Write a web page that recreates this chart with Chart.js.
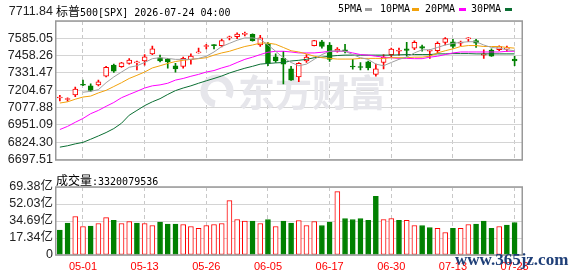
<!DOCTYPE html>
<html>
<head>
<meta charset="utf-8">
<script src="https://cdn.jsdelivr.net/npm/chart.js@4.4.0/dist/chart.umd.min.js"></script>
<style>
html, body { margin: 0; padding: 0; background: #fff; }
#wrap { position: relative; width: 578px; height: 276px; overflow: hidden; }
canvas { position: absolute; left: 0; }
.t { position: absolute; font: 10px 'DejaVu Sans Mono', monospace; color: #000; white-space: nowrap; line-height: 12px; }
.t b { font: 12px 'Noto Sans CJK SC', sans-serif; }
.sw { position: absolute; top: 8px; width: 7px; height: 3px; }
#wm { position: absolute; left: 455px; top: 250px; font: bold 17px 'Liberation Serif', serif; color: #1f3f78; white-space: nowrap; }
</style>
</head>
<body>
<div id="wrap">
  <canvas id="price" width="578" height="170" style="top:0"></canvas>
  <canvas id="vol" width="578" height="106" style="top:170px"></canvas>

  <div class="t" style="left:56px;top:2px"><b>标普</b>500[SPX] 2026-07-24 04:00</div>

  <div class="t" style="left:338px;top:3px">5PMA</div><div class="sw" style="left:365px;background:#a0a0a0"></div>
  <div class="t" style="left:380px;top:3px">10PMA</div><div class="sw" style="left:412px;background:#f2a20c"></div>
  <div class="t" style="left:425px;top:3px">20PMA</div><div class="sw" style="left:459px;background:#ff00ff"></div>
  <div class="t" style="left:471px;top:3px">30PMA</div><div class="sw" style="left:505px;background:#0a6e32"></div>

  <div class="t" style="left:56px;top:171px"><b>成交量</b>:3320079536</div>
  <div id="wm">www.365jz.com</div>
</div>

<script>
// trading days shown on the chart
const dates = ["04-28","04-29","04-30","05-01","05-04","05-05","05-06","05-07","05-08","05-11",
  "05-12","05-13","05-14","05-15","05-18","05-19","05-20","05-21","05-22","05-26",
  "05-27","05-28","05-29","06-01","06-02","06-03","06-04","06-05","06-08","06-09",
  "06-10","06-11","06-12","06-15","06-16","06-17","06-18","06-22","06-23","06-24",
  "06-25","06-26","06-29","06-30","07-01","07-02","07-06","07-07","07-08","07-09",
  "07-10","07-13","07-14","07-15","07-16","07-17","07-20","07-21","07-22","07-23"];

const opens  = [7148,7137,7171,7244,7237,7244,7307,7389,7377,7401,7405,7419,7471,7443,7431,7384,7380,7429,7478,7525,
                7534,7532,7588,7597,7614,7614,7536,7541,7450,7438,7361,7302,7419,7532,7560,7536,7490,7501,7382,7378,
                7412,7321,7408,7466,7490,7508,7513,7525,7490,7494,7555,7560,7550,7581,7569,7462,7499,7501,7506,7433];
const highs  = [7167,7150,7228,7279,7251,7279,7379,7396,7410,7436,7419,7466,7529,7462,7438,7401,7447,7471,7513,7541,
                7540,7579,7602,7625,7630,7617,7607,7553,7471,7489,7380,7408,7466,7571,7571,7553,7518,7541,7431,7408,
                7419,7396,7466,7513,7513,7555,7567,7536,7501,7560,7590,7578,7564,7590,7578,7501,7508,7530,7529,7454];
const lows   = [7127,7125,7157,7238,7197,7237,7302,7335,7372,7396,7354,7389,7466,7412,7366,7338,7366,7396,7476,7508,
                7508,7522,7574,7583,7602,7564,7525,7384,7408,7251,7276,7267,7408,7530,7513,7415,7483,7478,7359,7354,
                7354,7307,7361,7450,7461,7454,7501,7490,7438,7478,7536,7513,7532,7560,7518,7438,7452,7495,7489,7384];
const closes = [7152,7141,7214,7241,7204,7267,7373,7345,7405,7426,7412,7450,7508,7419,7412,7361,7438,7455,7483,7529,
                7531,7569,7593,7616,7621,7567,7588,7401,7419,7396,7279,7401,7447,7569,7525,7431,7506,7490,7375,7371,
                7368,7361,7447,7506,7492,7496,7555,7513,7494,7548,7583,7525,7555,7585,7550,7471,7454,7525,7510,7419];
const prevClose = 7160;

// volume, in 亿
const volumes = [25.4,32.5,39.3,29.1,29.4,32.1,38.2,35.5,32.1,34.2,32.5,32.1,30.1,33.5,31.5,31.5,31.1,29.1,27.1,30.1,
                 31.1,32.1,55.5,36.2,34.5,34.5,32.1,36.2,29.1,34.5,32.5,35.2,30.1,34.2,30.1,33.5,64.6,37.2,36.2,37.2,
                 35.5,59.9,36.2,37.2,35.5,35.5,30.1,30.1,28.1,27.1,23.0,27.1,27.1,31.1,31.5,34.5,27.1,29.1,30.5,33.2];

const ma5  = [null,null,null,7190,7197,7209,7260,7302,7338,7373,7384,7408,7436,7443,7438,7431,7431,7431,7438,7454,
              7485,7525,7548,7571,7588,7588,7578,7536,7490,7443,7408,7384,7396,7431,7466,7490,7494,7490,7466,7443,
              7431,7396,7384,7408,7431,7447,7478,7501,7501,7518,7536,7548,7555,7560,7560,7536,7518,7513,7501,7494];
const ma10 = [7111,7120,7139,7155,7162,7185,7204,7232,7260,7291,7314,7338,7368,7384,7401,7415,7424,7431,7436,7443,
              7462,7478,7490,7508,7525,7536,7550,7550,7541,7518,7494,7485,7471,7454,7443,7438,7433,7433,7433,7438,
              7438,7438,7438,7443,7443,7443,7447,7447,7454,7478,7494,7508,7525,7532,7532,7525,7525,7525,7518,7513];
const ma20 = [6917,6940,6970,6998,7033,7057,7087,7115,7150,7174,7197,7221,7237,7244,7256,7279,7291,7307,7321,7338,
              7349,7368,7384,7408,7431,7447,7466,7483,7490,7490,7485,7478,7478,7478,7483,7490,7490,7490,7478,7466,
              7462,7454,7447,7443,7438,7438,7436,7436,7447,7454,7466,7478,7485,7485,7485,7485,7485,7485,7490,7490];
const ma30 = [6788,6798,6812,6823,6846,6870,6895,6924,6963,7022,7057,7092,7120,7143,7174,7202,7221,7237,7256,7274,
              7291,7309,7331,7349,7366,7380,7396,7401,7405,7408,7419,7424,7431,7443,7447,7454,7459,7462,7462,7462,
              7462,7462,7462,7462,7464,7466,7466,7466,7466,7471,7471,7473,7473,7473,7471,7471,7471,7471,7471,7471];

const priceTicks = [6697.51,6824.30,6951.09,7077.88,7204.67,7331.47,7458.26,7585.05,7711.84];
const volTicks = [0,17.34,34.69,52.03,69.38];
const labelIdx = [3,11,19,27,35,43,51,59];

const RED = '#ff0000', GREEN = '#008000';
const idx = dates.map((d, i) => i);
const candleUp = idx.map(i => closes[i] >= opens[i]);
const volUp = idx.map(i => closes[i] >= (i ? closes[i - 1] : prevClose));

const labelFont = { family: "'Liberation Sans', 'Noto Sans CJK SC', sans-serif", size: 12.5 };

// border round the plot, drawn after everything
const frame = {
  id: 'frame',
  afterDraw(chart) {
    const { ctx, chartArea: a } = chart;
    ctx.save();
    ctx.strokeStyle = '#999';
    ctx.lineWidth = 1.5;
    ctx.strokeRect(Math.round(a.left) - 0.25, Math.round(a.top), Math.round(a.width) + 0.5, Math.round(a.height));
    ctx.restore();
  }
};

// light watermark behind the candles + top price label (sits a bit above its line)
const priceExtras = {
  id: 'priceExtras',
  beforeDatasetsDraw(chart) {
    const { ctx } = chart;
    ctx.save();
    ctx.fillStyle = '#e6e6eb';
    ctx.strokeStyle = '#e6e6eb';
    ctx.lineWidth = 7;
    ctx.beginPath();
    ctx.arc(217, 91, 13, Math.PI * 0.55, Math.PI * 2.15);
    ctx.stroke();
    ctx.font = "bold 37px 'Noto Sans CJK SC', sans-serif";
    ctx.textBaseline = 'alphabetic';
    ctx.fillText('东方财富', 238, 107);
    ctx.restore();
  },
  afterDraw(chart) {
    const { ctx } = chart;
    const y = chart.scales.y;
    const top = priceTicks[priceTicks.length - 1];
    ctx.save();
    ctx.font = "12.5px 'Liberation Sans', sans-serif";
    ctx.fillStyle = '#222';
    ctx.textAlign = 'right';
    ctx.textBaseline = 'middle';
    ctx.fillText(top.toFixed(2), 53, y.getPixelForValue(top) - 9);
    ctx.restore();
  }
};

function xAxis(showLabels) {
  return {
    type: 'linear', min: -0.5, max: 59.96, offset: false,
    grid: { offset: false, color: '#c8c8c8', lineWidth: 1, drawTicks: false },
    border: { display: false, dash: [4, 3] },
    afterBuildTicks: s => { s.ticks = labelIdx.map(v => ({ value: v })); },
    ticks: showLabels
      ? { autoSkip: false, maxRotation: 0, padding: 5, color: RED,
          font: { family: "'Liberation Sans', sans-serif", size: 11 },
          callback: v => dates[v] }
      : { display: false },
    afterFit: s => { s.height = showLabels ? 21 : 0; }
  };
}

function maLine(arr, color) {
  return {
    type: 'line', order: 1,
    data: idx.map(i => ({ x: i, y: arr[i] })),
    borderColor: color, borderWidth: 1, pointRadius: 0, fill: false
  };
}

const common = {
  responsive: false, animation: false, events: [],
  plugins: { legend: { display: false }, tooltip: { enabled: false } }
};

new Chart(document.getElementById('price'), {
  type: 'bar',
  data: {
    datasets: [
      {
        order: 3, grouped: false, barThickness: 1,
        data: idx.map(i => ({ x: i, y: [lows[i], highs[i]] })),
        backgroundColor: idx.map(i => candleUp[i] ? RED : GREEN)
      },
      {
        order: 2, grouped: false, barThickness: 5, minBarLength: 1, borderSkipped: false,
        data: idx.map(i => ({ x: i, y: [opens[i], closes[i]] })),
        backgroundColor: idx.map(i => candleUp[i] ? '#ffffff' : GREEN),
        borderColor: idx.map(i => candleUp[i] ? RED : GREEN),
        borderWidth: 1
      },
      maLine(ma5, '#a0a0a0'),
      maLine(ma10, '#f2a20c'),
      maLine(ma20, '#ff00ff'),
      maLine(ma30, '#0a6e32')
    ]
  },
  options: {
    ...common,
    layout: { padding: { top: 21, right: 56, bottom: 5, left: 0 } },
    scales: {
      x: xAxis(false),
      y: {
        min: priceTicks[0], max: priceTicks[priceTicks.length - 1],
        afterBuildTicks: s => { s.ticks = priceTicks.map(v => ({ value: v })); },
        grid: { color: '#d4d4d4', drawTicks: false },
        border: { display: false },
        ticks: {
          autoSkip: false, padding: 3, color: '#222', font: labelFont,
          callback: v => v === priceTicks[priceTicks.length - 1] ? '' : v.toFixed(2)
        },
        afterFit: s => { s.width = 56; }
      }
    }
  },
  plugins: [priceExtras, frame]
});

new Chart(document.getElementById('vol'), {
  type: 'bar',
  data: {
    datasets: [{
      grouped: false, barThickness: 5, borderSkipped: false,
      data: idx.map(i => ({ x: i, y: volumes[i] })),
      backgroundColor: idx.map(i => volUp[i] ? '#ffffff' : GREEN),
      borderColor: idx.map(i => volUp[i] ? RED : GREEN),
      borderWidth: 1
    }]
  },
  options: {
    ...common,
    layout: { padding: { top: 17, right: 56, bottom: 0, left: 0 } },
    scales: {
      x: xAxis(true),
      y: {
        min: 0, max: volTicks[volTicks.length - 1],
        afterBuildTicks: s => { s.ticks = volTicks.map(v => ({ value: v })); },
        grid: { color: '#d4d4d4', drawTicks: false },
        border: { display: false },
        ticks: {
          autoSkip: false, padding: 3, color: '#222', font: labelFont,
          callback: v => v === 0 ? '0' : v.toFixed(2) + '亿'
        },
        afterFit: s => { s.width = 56; }
      }
    }
  },
  plugins: [frame]
});
</script>
</body>
</html>
